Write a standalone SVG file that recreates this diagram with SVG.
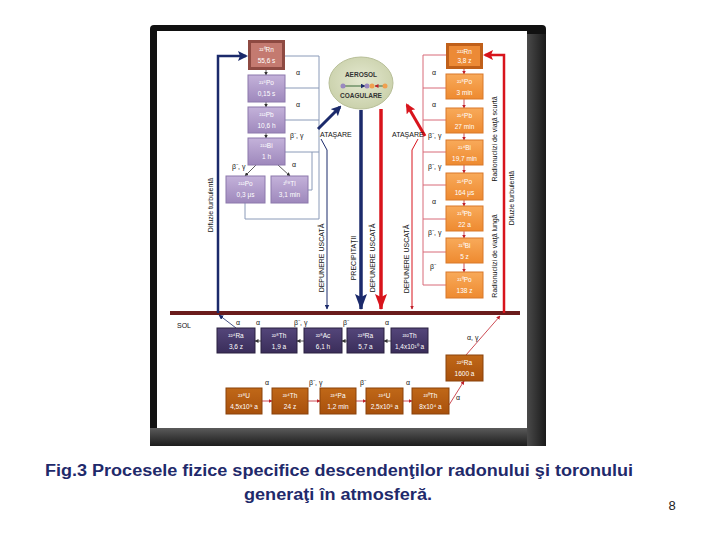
<svg xmlns="http://www.w3.org/2000/svg" width="720" height="540" viewBox="0 0 720 540">
<style>
text{font-family:"Liberation Sans",Arial,sans-serif}
.bt{font-size:6.5px;fill:#fff;text-anchor:middle}
.lbl{font-size:7px;fill:#111}
.rot{font-size:7px;fill:#111;text-anchor:middle}
.lav{fill:url(#gLav);stroke:#8c78ac;stroke-width:1}
.org{fill:url(#gOrg);stroke:#d9782a;stroke-width:1}
.gnd{fill:url(#gGnd);stroke:#2a2040;stroke-width:1}
.brn{fill:url(#gBrn);stroke:#8a420a;stroke-width:1}
.ol{fill:none;stroke:#8a9ab8;stroke-width:1}
.or{fill:none;stroke:#d86a78;stroke-width:1}
.cap{font-size:16px;font-weight:bold;fill:#1f2a6b;text-anchor:middle}
</style>
<defs>
<linearGradient id="gLav" x1="0" y1="0" x2="0" y2="1"><stop offset="0" stop-color="#c4b2da"/><stop offset="1" stop-color="#9e88bc"/></linearGradient>
<linearGradient id="gOrg" x1="0" y1="0" x2="0" y2="1"><stop offset="0" stop-color="#f8aa5a"/><stop offset="1" stop-color="#ee8a30"/></linearGradient>
<linearGradient id="gGnd" x1="0" y1="0" x2="0" y2="1"><stop offset="0" stop-color="#54467a"/><stop offset="1" stop-color="#3a2d5a"/></linearGradient>
<linearGradient id="gBrn" x1="0" y1="0" x2="0" y2="1"><stop offset="0" stop-color="#c06818"/><stop offset="1" stop-color="#a8500c"/></linearGradient>
<radialGradient id="gEll" cx="0.5" cy="0.45" r="0.6"><stop offset="0" stop-color="#e4e8d0"/><stop offset="1" stop-color="#c8cfa8"/></radialGradient>
<linearGradient id="gBot" x1="0" y1="0" x2="0" y2="1"><stop offset="0" stop-color="#5a5a5a"/><stop offset="1" stop-color="#1c1c1c"/></linearGradient>
<linearGradient id="gRgt" x1="0" y1="0" x2="1" y2="0"><stop offset="0" stop-color="#4a4a4a"/><stop offset="1" stop-color="#1a1a1a"/></linearGradient>
<marker id="aS" markerWidth="4" markerHeight="4" refX="3.5" refY="2" orient="auto" markerUnits="userSpaceOnUse"><path d="M0,0 L4,2 L0,4 z" fill="#333"/></marker>
<marker id="aSr" markerWidth="4" markerHeight="4" refX="3.5" refY="2" orient="auto" markerUnits="userSpaceOnUse"><path d="M0,0 L4,2 L0,4 z" fill="#c0202a"/></marker>
<marker id="aSn" markerWidth="5" markerHeight="5" refX="4.5" refY="2.5" orient="auto" markerUnits="userSpaceOnUse"><path d="M0,0 L5,2.5 L0,5 z" fill="#1b2a6b"/></marker>
<marker id="aN" markerWidth="10" markerHeight="10" refX="8" refY="5" orient="auto" markerUnits="userSpaceOnUse"><path d="M0,0 L10,5 L0,10 L2,5 z" fill="#1b2a6b"/></marker>
<marker id="aR" markerWidth="10" markerHeight="10" refX="8" refY="5" orient="auto" markerUnits="userSpaceOnUse"><path d="M0,0 L10,5 L0,10 L2,5 z" fill="#d8141c"/></marker>
<marker id="aNB" markerWidth="16" markerHeight="12" refX="15" refY="6" orient="auto" markerUnits="userSpaceOnUse"><path d="M0,0 L16,6 L0,12 L3,6 z" fill="#1b2a6b"/></marker>
<marker id="aRB" markerWidth="16" markerHeight="12" refX="15" refY="6" orient="auto" markerUnits="userSpaceOnUse"><path d="M0,0 L16,6 L0,12 L3,6 z" fill="#d8141c"/></marker>
</defs>
<rect width="720" height="540" fill="#fff"/>
<g id="frame">
<rect x="150" y="25" width="396" height="421" rx="4" fill="#111"/>
<rect x="150" y="428" width="396" height="18" fill="url(#gBot)"/>
<rect x="527" y="34" width="19" height="412" fill="url(#gRgt)"/>
<rect x="157" y="31" width="370" height="397" fill="#fff"/>
</g>
<g id="tables">
<path class="ol" d="M285,56 H319 M285,88 H319 M285,120 H319 M285,152 H319 M319,56 V219 H245 V203 M308,190 H312 V152"/>
<path class="or" d="M446,55 H423 V285 M423,88 H446 M423,120 H446 M423,152 H446 M423,185 H446 M423,219 H446 M423,252 H446 M423,285 H446"/>
</g>
<g id="connectors">
<line x1="170" y1="313" x2="520" y2="313" stroke="#6a1c1c" stroke-width="4"/>
<polyline points="218,313 218,56 246,56" fill="none" stroke="#1b2a6b" stroke-width="2.5" marker-end="url(#aN)"/>
<polyline points="504,313 504,55 485,55" fill="none" stroke="#d8141c" stroke-width="2.5" marker-end="url(#aR)"/>
<line x1="318" y1="129" x2="340" y2="107" stroke="#1b2a6b" stroke-width="3" marker-end="url(#aN)"/>
<line x1="425" y1="136" x2="407" y2="105" stroke="#d8141c" stroke-width="3" marker-end="url(#aR)"/>
<line x1="361" y1="110" x2="361" y2="309" stroke="#1b2a6b" stroke-width="3.5" marker-end="url(#aNB)"/>
<line x1="381" y1="109" x2="381" y2="309" stroke="#d8141c" stroke-width="3.5" marker-end="url(#aRB)"/>
<polyline points="321,139 327,150 327,309" fill="none" stroke="#1b2a6b" stroke-width="1" marker-end="url(#aSn)"/>
<polyline points="418,139 412,150 412,309" fill="none" stroke="#d8141c" stroke-width="1" marker-end="url(#aSr)"/>
<line x1="266" y1="70" x2="266" y2="75" stroke="#333" stroke-width="0.8" marker-end="url(#aS)"/>
<line x1="266" y1="102" x2="266" y2="107" stroke="#333" stroke-width="0.8" marker-end="url(#aS)"/>
<line x1="266" y1="133" x2="266" y2="138" stroke="#333" stroke-width="0.8" marker-end="url(#aS)"/>
<line x1="256" y1="165" x2="245" y2="176" stroke="#333" stroke-width="0.8" marker-end="url(#aS)"/>
<line x1="278" y1="165" x2="290" y2="176" stroke="#333" stroke-width="0.8" marker-end="url(#aS)"/>
<line x1="464" y1="69" x2="464" y2="74" stroke="#c0202a" stroke-width="0.8" marker-end="url(#aSr)"/>
<line x1="464" y1="99" x2="464" y2="108" stroke="#c0202a" stroke-width="0.8" marker-end="url(#aSr)"/>
<line x1="464" y1="133" x2="464" y2="140" stroke="#c0202a" stroke-width="0.8" marker-end="url(#aSr)"/>
<line x1="464" y1="165" x2="464" y2="173" stroke="#c0202a" stroke-width="0.8" marker-end="url(#aSr)"/>
<line x1="464" y1="200" x2="464" y2="206" stroke="#c0202a" stroke-width="0.8" marker-end="url(#aSr)"/>
<line x1="464" y1="231" x2="464" y2="238" stroke="#c0202a" stroke-width="0.8" marker-end="url(#aSr)"/>
<line x1="464" y1="263" x2="464" y2="272" stroke="#c0202a" stroke-width="0.8" marker-end="url(#aSr)"/>
<line x1="236" y1="328" x2="219" y2="315" stroke="#1b2a6b" stroke-width="0.8" marker-end="url(#aSn)"/>
<line x1="261" y1="341" x2="255" y2="341" stroke="#333" stroke-width="0.8" marker-end="url(#aS)"/>
<line x1="304" y1="341" x2="297" y2="341" stroke="#333" stroke-width="0.8" marker-end="url(#aS)"/>
<line x1="347" y1="341" x2="342" y2="341" stroke="#333" stroke-width="0.8" marker-end="url(#aS)"/>
<line x1="391" y1="341" x2="384" y2="341" stroke="#333" stroke-width="0.8" marker-end="url(#aS)"/>
<line x1="262" y1="401" x2="272" y2="401" stroke="#c0202a" stroke-width="0.8" marker-end="url(#aSr)"/>
<line x1="308" y1="401" x2="320" y2="401" stroke="#c0202a" stroke-width="0.8" marker-end="url(#aSr)"/>
<line x1="356" y1="401" x2="366" y2="401" stroke="#c0202a" stroke-width="0.8" marker-end="url(#aSr)"/>
<line x1="403" y1="401" x2="412" y2="401" stroke="#c0202a" stroke-width="0.8" marker-end="url(#aSr)"/>
<line x1="449" y1="405" x2="464" y2="381" stroke="#c0202a" stroke-width="0.8" marker-end="url(#aSr)"/>
<line x1="466" y1="355" x2="500" y2="316" stroke="#c0202a" stroke-width="0.8" marker-end="url(#aSr)"/>
</g>
<g id="labels">
<text class="lbl" x="296" y="75">α</text>
<text class="lbl" x="296" y="107">α</text>
<text class="lbl" x="290" y="138">β⁻, γ</text>
<text class="lbl" x="232" y="169">β⁻, γ</text>
<text class="lbl" x="292" y="167">α</text>
<text class="lbl" x="432" y="75">α</text>
<text class="lbl" x="432" y="107">α</text>
<text class="lbl" x="428" y="138">β⁻, γ</text>
<text class="lbl" x="428" y="169">β⁻, γ</text>
<text class="lbl" x="432" y="204">α</text>
<text class="lbl" x="428" y="235">β⁻, γ</text>
<text class="lbl" x="430" y="269">β⁻</text>
<text class="lbl" x="320" y="137">ATAŞARE</text>
<text class="lbl" x="392" y="137">ATAŞARE</text>
<text class="lbl" x="177" y="328">SOL</text>
<text class="lbl" x="236" y="325">α</text>
<text class="lbl" x="256" y="325">α</text>
<text class="lbl" x="294" y="325">β⁻, γ</text>
<text class="lbl" x="343" y="325">β⁻</text>
<text class="lbl" x="385" y="325">α</text>
<text class="lbl" x="265" y="385">α</text>
<text class="lbl" x="309" y="385">β⁻, γ</text>
<text class="lbl" x="360" y="385">β⁻</text>
<text class="lbl" x="406" y="385">α</text>
<text class="lbl" x="456" y="400">α</text>
<text class="lbl" x="467" y="340">α, γ</text>
<text class="rot" transform="translate(213,205) rotate(-90)">Difuzie  turbulentă</text>
<text class="rot" transform="translate(324,258) rotate(-90)">DEPUNERE USCATĂ</text>
<text class="rot" transform="translate(356,258) rotate(-90)">PRECIPITAŢII</text>
<text class="rot" transform="translate(375,258) rotate(-90)">DEPUNERE USCATĂ</text>
<text class="rot" transform="translate(409,259) rotate(-90)">DEPUNERE USCATĂ</text>
<text class="rot" transform="translate(497,139) rotate(-90)">Radionuclizi  de viaţă scurtă</text>
<text class="rot" transform="translate(497,256) rotate(-90)">Radionuclizi  de viaţă lungă</text>
<text class="rot" transform="translate(514,198) rotate(-90)">Difuzie  turbulentă</text>
</g>
<g id="aerosol">
<ellipse cx="361" cy="83" rx="32" ry="26" fill="url(#gEll)" stroke="#b8bf98" stroke-width="1"/>
<text x="361" y="77" font-size="6.5" font-weight="bold" fill="#333" text-anchor="middle">AEROSOL</text>
<line x1="343" y1="86" x2="365" y2="86" stroke="#3a6a3a" stroke-width="1" marker-end="url(#aSn)"/>
<line x1="385" y1="86" x2="375" y2="86" stroke="#3a6a3a" stroke-width="1" marker-end="url(#aSr)"/>
<circle cx="343" cy="86" r="2.5" fill="#9a88c0"/>
<circle cx="367" cy="86" r="2.5" fill="#9a88c0"/>
<circle cx="372" cy="86" r="2.5" fill="#f0a050"/>
<circle cx="385" cy="86" r="2.5" fill="#f0a050"/>
<text x="361" y="98" font-size="6.5" font-weight="bold" fill="#333" text-anchor="middle">COAGULARE</text>
</g>
<g id="Rn220"><rect x="248" y="40" width="37" height="30" fill="#8e4a42"/><rect x="251" y="43" width="31" height="24" fill="#c47a70"/><text class="bt" x="266.5" y="52">²²⁰Rn</text><text class="bt" x="266.5" y="63">55,6 s</text></g>
<g id="Po216"><rect class="lav" x="248" y="75" width="37" height="27"/><text class="bt" x="266.5" y="85">²¹⁶Po</text><text class="bt" x="266.5" y="96">0,15 s</text></g>
<g id="Pb212"><rect class="lav" x="248" y="107" width="37" height="26"/><text class="bt" x="266.5" y="117">²¹²Pb</text><text class="bt" x="266.5" y="128">10,6 h</text></g>
<g id="Bi212"><rect class="lav" x="248" y="138" width="37" height="27"/><text class="bt" x="266.5" y="148">²¹²Bi</text><text class="bt" x="266.5" y="159">1 h</text></g>
<g id="Po212"><rect class="lav" x="226" y="176" width="39" height="27"/><text class="bt" x="245.5" y="186">²¹²Po</text><text class="bt" x="245.5" y="197">0,3 μs</text></g>
<g id="Tl208"><rect class="lav" x="271" y="176" width="37" height="27"/><text class="bt" x="289.5" y="186">²⁰⁸Tl</text><text class="bt" x="289.5" y="197">3,1 min</text></g>
<g id="Rn222"><rect x="446" y="43" width="37" height="26" fill="#c0601a"/><rect x="449" y="46" width="31" height="20" fill="#ec8a36"/><text class="bt" x="464.5" y="54">²²²Rn</text><text class="bt" x="464.5" y="63">3,8 z</text></g>
<g id="Po218"><rect class="org" x="446" y="74" width="37" height="25"/><text class="bt" x="464.5" y="84">²¹⁸Po</text><text class="bt" x="464.5" y="95">3 min</text></g>
<g id="Pb214"><rect class="org" x="446" y="108" width="37" height="25"/><text class="bt" x="464.5" y="118">²¹⁴Pb</text><text class="bt" x="464.5" y="129">27 min</text></g>
<g id="Bi214"><rect class="org" x="446" y="140" width="37" height="25"/><text class="bt" x="464.5" y="150">²¹⁴Bi</text><text class="bt" x="464.5" y="161">19,7 min</text></g>
<g id="Po214"><rect class="org" x="446" y="173" width="37" height="27"/><text class="bt" x="464.5" y="184">²¹⁴Po</text><text class="bt" x="464.5" y="195">164 μs</text></g>
<g id="Pb210"><rect class="org" x="446" y="206" width="37" height="25"/><text class="bt" x="464.5" y="216">²¹⁰Pb</text><text class="bt" x="464.5" y="227">22 a</text></g>
<g id="Bi210"><rect class="org" x="446" y="238" width="37" height="25"/><text class="bt" x="464.5" y="248">²¹⁰Bi</text><text class="bt" x="464.5" y="259">5 z</text></g>
<g id="Po210"><rect class="org" x="446" y="272" width="37" height="26"/><text class="bt" x="464.5" y="282">²¹⁰Po</text><text class="bt" x="464.5" y="293">138 z</text></g>
<g id="Ra224"><rect class="gnd" x="217" y="328" width="38" height="25"/><text class="bt" x="236" y="338">²²⁴Ra</text><text class="bt" x="236" y="349">3,6 z</text></g>
<g id="Th228"><rect class="gnd" x="261" y="328" width="36" height="25"/><text class="bt" x="279" y="338">²²⁸Th</text><text class="bt" x="279" y="349">1,9 a</text></g>
<g id="Ac228"><rect class="gnd" x="304" y="328" width="38" height="25"/><text class="bt" x="323" y="338">²²⁸Ac</text><text class="bt" x="323" y="349">6,1 h</text></g>
<g id="Ra228"><rect class="gnd" x="347" y="328" width="37" height="25"/><text class="bt" x="365.5" y="338">²²⁸Ra</text><text class="bt" x="365.5" y="349">5,7 a</text></g>
<g id="Th232"><rect class="gnd" x="391" y="328" width="37" height="25"/><text class="bt" x="409.5" y="338">²³²Th</text><text class="bt" x="409.5" y="349">1,4x10¹⁰ a</text></g>
<g id="U238"><rect class="brn" x="226" y="388" width="36" height="26"/><text class="bt" x="244" y="398">²³⁸U</text><text class="bt" x="244" y="409">4,5x10⁹ a</text></g>
<g id="Th234"><rect class="brn" x="272" y="388" width="36" height="26"/><text class="bt" x="290" y="398">²³⁴Th</text><text class="bt" x="290" y="409">24 z</text></g>
<g id="Pa234"><rect class="brn" x="320" y="388" width="36" height="26"/><text class="bt" x="338" y="398">²³⁴Pa</text><text class="bt" x="338" y="409">1,2 min</text></g>
<g id="U234"><rect class="brn" x="366" y="388" width="37" height="26"/><text class="bt" x="384.5" y="398">²³⁴U</text><text class="bt" x="384.5" y="409">2,5x10⁵ a</text></g>
<g id="Th230"><rect class="brn" x="412" y="388" width="37" height="26"/><text class="bt" x="430.5" y="398">²³⁰Th</text><text class="bt" x="430.5" y="409">8x10⁴ a</text></g>
<g id="Ra226"><rect class="brn" x="446" y="355" width="37" height="26"/><text class="bt" x="464.5" y="365">²²⁶Ra</text><text class="bt" x="464.5" y="376">1600 a</text></g>
<g id="caption">
<text class="cap" x="339" y="476" textLength="588" lengthAdjust="spacingAndGlyphs">Fig.3 Procesele fizice specifice descendenţilor radonului şi toronului</text>
<text class="cap" x="338" y="500" textLength="188" lengthAdjust="spacingAndGlyphs">generaţi în atmosferă.</text>
<text x="672" y="510" font-size="13" fill="#222" text-anchor="middle">8</text>
</g>
</svg>
